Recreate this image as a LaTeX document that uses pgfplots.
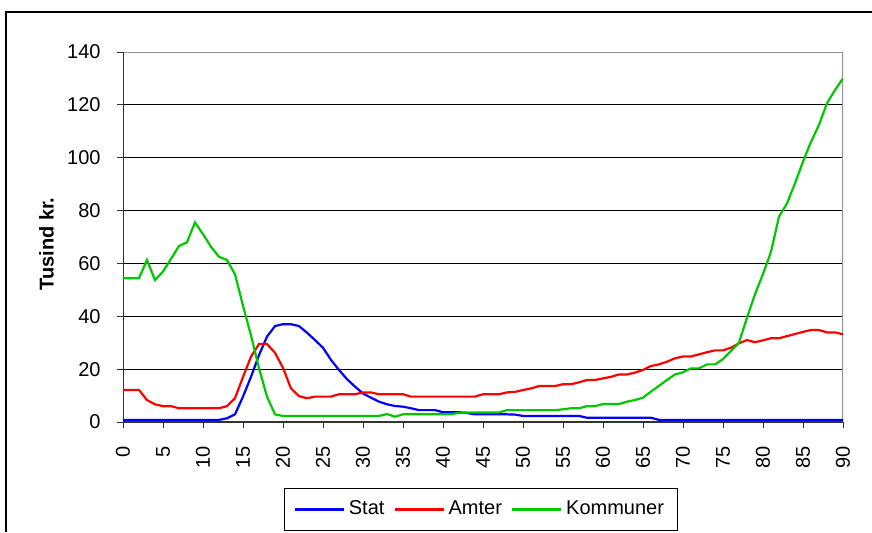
\documentclass[border=0pt]{standalone}
\usepackage{fontspec}
\setmainfont{Liberation Sans}
\usepackage{pgfplots}
\usepackage{pgfplotstable}
\pgfplotsset{compat=1.18}
\definecolor{cblue}{RGB}{0,0,255}
\definecolor{cred}{RGB}{255,0,0}
\definecolor{cgreen}{RGB}{0,200,0}

\pgfplotstableread{
age stat amter komm
0 0.8 12.1 54.4
1 0.8 12.1 54.4
2 0.8 12.1 54.4
3 0.8 8.3 61.3
4 0.8 6.7 53.7
5 0.8 6.0 56.9
6 0.8 6.0 61.7
7 0.8 5.2 66.6
8 0.8 5.2 68.0
9 0.8 5.2 75.5
10 0.8 5.2 71.1
11 0.8 5.2 66.3
12 0.8 5.2 62.5
13 1.4 6.0 61.3
14 2.9 9.0 55.9
15 9.6 17.0 44.0
16 17.1 24.7 32.8
17 25.3 29.5 20.4
18 32.3 29.5 9.6
19 36.3 26.2 2.9
20 37.0 20.5 2.3
21 37.0 12.7 2.3
22 36.3 9.8 2.3
23 33.8 9.0 2.3
24 31.0 9.6 2.3
25 28.1 9.6 2.3
26 23.5 9.6 2.3
27 19.7 10.5 2.3
28 16.2 10.5 2.3
29 13.4 10.5 2.3
30 10.8 11.2 2.3
31 9.2 11.2 2.3
32 7.7 10.5 2.3
33 6.7 10.5 3.0
34 6.05 10.5 2.0
35 5.8 10.5 2.9
36 5.2 9.6 2.9
37 4.5 9.6 2.9
38 4.5 9.6 2.9
39 4.5 9.6 2.9
40 3.7 9.6 2.9
41 3.7 9.6 2.9
42 3.7 9.6 3.5
43 3.4 9.6 3.6
44 2.9 9.6 3.6
45 2.9 10.5 3.6
46 2.9 10.5 3.6
47 2.9 10.5 3.6
48 2.9 11.2 4.5
49 2.8 11.4 4.5
50 2.3 12.1 4.5
51 2.3 12.7 4.5
52 2.3 13.6 4.5
53 2.3 13.6 4.5
54 2.3 13.6 4.5
55 2.3 14.3 4.8
56 2.3 14.3 5.2
57 2.3 15.0 5.2
58 1.6 15.9 6.0
59 1.6 15.9 6.0
60 1.6 16.5 6.8
61 1.6 17.1 6.8
62 1.6 18.0 6.8
63 1.6 18.0 7.7
64 1.6 18.7 8.3
65 1.6 19.7 9.2
66 1.6 21.2 11.5
67 0.8 21.8 13.7
68 0.8 22.8 15.9
69 0.8 24.1 18.0
70 0.8 24.8 18.8
71 0.8 24.8 20.3
72 0.8 25.6 20.3
73 0.8 26.4 21.8
74 0.8 27.1 21.8
75 0.8 27.1 23.8
76 0.8 28.1 26.9
77 0.8 29.8 30.0
78 0.8 31.0 39.5
79 0.8 30.2 48.3
80 0.8 30.9 56.0
81 0.8 31.7 64.4
82 0.8 31.7 77.7
83 0.8 32.5 82.7
84 0.8 33.3 90.3
85 0.8 34.1 98.5
86 0.8 34.8 106.0
87 0.8 34.8 112.4
88 0.8 33.9 120.6
89 0.8 33.9 125.6
90 0.8 33.2 130.0
}\data

\begin{document}
\begin{tikzpicture}[x=0.5pt,y=0.5pt]
\useasboundingbox (0,0) rectangle (872,532);
\draw[line width=0.6pt] (6,0) -- (6,520) -- (872,520);
\begin{axis}[
  at={(61.5pt,55pt)}, anchor=south west,
  scale only axis, width=360pt, height=185pt,
  xmin=0, xmax=90, ymin=0, ymax=140,
  xtick={0,5,...,90}, ytick={0,20,...,140},
  tick pos=left, tick align=outside, major tick length=3pt,
  every tick/.style={black!80, line width=0.5pt},
  ymajorgrids, grid style={black, line width=0.5pt},
  axis line style={draw=none},
  font=\fontsize{10}{12}\selectfont,
  /pgf/number format/assume math mode=true,
  xticklabel style={rotate=90, anchor=east},
  xticklabel shift=5.5pt,
  yticklabel shift=4.7pt,
  legend style={at={(0.497,-0.2365)}, anchor=center, legend columns=3,
    draw=black, line width=0.5pt, inner xsep=4.5pt, inner ysep=4.3pt,
    /tikz/every even column/.append style={column sep=2.5pt}},
  legend image code/.code={\draw[#1] (0pt,0pt) -- (24.5pt,0pt);},
]
\draw[gray!85, line width=0.9pt] (rel axis cs:0,1) -- (rel axis cs:1,1) -- (rel axis cs:1,0);
\draw[black!80, line width=0.6pt] (rel axis cs:0,1) -- (rel axis cs:0,0) -- (rel axis cs:1,0);
\addplot[cblue, line width=1.1pt] table[x=age, y=stat] {\data};
\addlegendentry{Stat}
\addplot[cred, line width=1.1pt] table[x=age, y=amter] {\data};
\addlegendentry{Amter}
\addplot[cgreen, line width=1.1pt] table[x=age, y=komm] {\data};
\addlegendentry{Kommuner}
\end{axis}
\node[rotate=90, font=\fontsize{10}{12}\selectfont\bfseries] at (46.5,288) {Tusind kr.};
\end{tikzpicture}
\end{document}
